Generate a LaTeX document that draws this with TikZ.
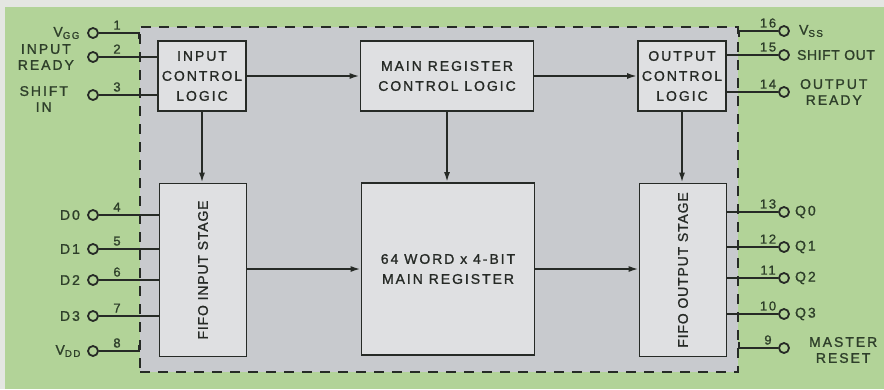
\documentclass[tikz,border=0pt]{standalone}
\usepackage{fontspec}
\setmainfont{Liberation Sans}[LetterSpace=14,FakeBold=1.2]
\usepackage{xcolor}
\usetikzlibrary{arrows.meta,positioning}
\definecolor{paper}{HTML}{E4E6E2}
\definecolor{board}{HTML}{B2D398}
\definecolor{chipgrey}{HTML}{C8CACE}
\definecolor{boxgrey}{HTML}{DFE0E2}
\definecolor{ink}{HTML}{262A26}
\definecolor{leaf}{HTML}{2E3F2A}
\tikzset{
  ctlbox/.style={draw=ink, line width=1.8pt, fill=boxgrey, align=center, inner sep=0pt, minimum width=88pt, minimum height=70pt, font=\fontsize{14}{20}\selectfont, text=ink},
  regbox/.style={draw=ink, line width=1.8pt, fill=boxgrey, align=center, inner sep=0pt, minimum width=173pt, minimum height=172pt, font=\fontsize{14}{20}\selectfont, text=ink},
  stagebox/.style={draw=ink, line width=1.8pt, fill=boxgrey, inner sep=0pt, minimum width=87pt, minimum height=173pt},
  stagetext/.style={rotate=90, font=\fontsize{14}{20}\selectfont\addfontfeature{LetterSpace=6}, text=ink, inner sep=0pt},
  chipframe/.style={draw=ink, line width=1.8pt, dash pattern=on 10pt off 8pt, fill=chipgrey, inner sep=0pt, minimum width=598pt, minimum height=345pt},
  pincirc/.style={circle, draw=ink, line width=1.8pt, fill=board, minimum size=10pt, inner sep=0pt},
  pinline/.style={draw=ink, line width=1.8pt},
  pinno/.style={above, inner sep=2.5pt, font=\fontsize{13}{15}\selectfont, text=leaf},
  plbl/.style={align=center, inner sep=1pt, font=\fontsize{14}{16}\selectfont, text=leaf},
  darrow/.style={-{Latex[length=10pt,width=6pt]}, draw=ink, line width=1.8pt}
}

\begin{document}
\begin{tikzpicture}[x=1pt,y=-1pt]
\useasboundingbox (0,0) rectangle (884,389);
\fill[paper] (0,0) rectangle (884,389);
\fill[board] (5,7) rectangle (884,389);

\node[chipframe] (chip) at (439,199.5) {};

\node[ctlbox] (inctl) at (202,76) {INPUT\\CONTROL\\LOGIC};
\node[ctlbox, minimum width=173pt] (mainctl) at (447,76) {MAIN REGISTER\\CONTROL LOGIC};
\node[ctlbox] (outctl) at (682,76) {OUTPUT\\CONTROL\\LOGIC};
\node[stagebox] (fifoin) at (203,270) {};
\node[stagetext] (fifointxt) at (fifoin.center) {FIFO INPUT STAGE};
\node[regbox] (mainreg) at (448,269) {64 WORD x 4-BIT\\MAIN REGISTER};
\node[stagebox] (fifoout) at (683,270) {};
\node[stagetext] (fifoouttxt) at (fifoout.center) {FIFO OUTPUT STAGE};

\draw[darrow] (inctl.east) -- (mainctl.west);
\draw[darrow] (mainctl.east) -- (outctl.west);
\draw[darrow] (inctl.south) -- (inctl.south |- fifoin.north);
\draw[darrow] (mainctl.south) -- (mainctl.south |- mainreg.north);
\draw[darrow] (outctl.south) -- (outctl.south |- fifoout.north);
\draw[darrow] (fifoin.east |- mainreg.west) -- (mainreg.west);
\draw[darrow] (mainreg.east) -- (fifoout.west |- mainreg.east);

% left pins
\node[pincirc] (p1) at (93,33) {};
\node[pincirc] (p2) at (93,57) {};
\node[pincirc] (p3) at (93,95) {};
\node[pincirc] (p4) at (93,215) {};
\node[pincirc] (p5) at (93,249) {};
\node[pincirc] (p6) at (93,280) {};
\node[pincirc] (p7) at (93,316) {};
\node[pincirc] (p8) at (93,351) {};

\node[plbl, left=6pt of p1] (l1) {V\textsubscript{GG}};
\node[plbl, left=12pt of p2] (l2) {INPUT\\READY};
\node[plbl, left=18pt of p3, yshift=-4pt] (l3) {SHIFT\\IN};
\node[plbl, left=6pt of p4] (l4) {D0};
\node[plbl, left=6pt of p5] (l5) {D1};
\node[plbl, left=6pt of p6] (l6) {D2};
\node[plbl, left=6pt of p7] (l7) {D3};
\node[plbl, left=5pt of p8] (l8) {V\textsubscript{DD}};

\draw[pinline] (p1) -- ++(24,0) node[pinno] {1} -- (p1 -| chip.west) -- ++(0,6);
\draw[pinline] (p2) -- ++(24,0) node[pinno] {2} -- (p2 -| inctl.west);
\draw[pinline] (p3) -- ++(24,0) node[pinno] {3} -- (p3 -| inctl.west);
\draw[pinline] (p4) -- ++(24,0) node[pinno] {4} -- (p4 -| fifoin.west);
\draw[pinline] (p5) -- ++(24,0) node[pinno] {5} -- (p5 -| fifoin.west);
\draw[pinline] (p6) -- ++(24,0) node[pinno] {6} -- (p6 -| fifoin.west);
\draw[pinline] (p7) -- ++(24,0) node[pinno] {7} -- (p7 -| fifoin.west);
\draw[pinline] (p8) -- ++(24,0) node[pinno] {8} -- (p8 -| chip.west) -- ++(0,-6);

% right pins
\node[pincirc] (p16) at (784,31) {};
\node[pincirc] (p15) at (784,55) {};
\node[pincirc] (p14) at (784,92) {};
\node[pincirc] (p13) at (784,212) {};
\node[pincirc] (p12) at (784,247) {};
\node[pincirc] (p11) at (784,278) {};
\node[pincirc] (p10) at (784,314) {};
\node[pincirc] (p9) at (784,348) {};

\node[plbl, right=8pt of p16] (l16) {V\textsubscript{SS}};
\node[plbl, right=6pt of p15, font=\fontsize{14}{16}\selectfont\addfontfeature{LetterSpace=4}] (l15) {SHIFT OUT};
\node[plbl, right=9pt of p14] (l14) {OUTPUT\\READY};
\node[plbl, right=4pt of p13] (l13) {Q0};
\node[plbl, right=4pt of p12] (l12) {Q1};
\node[plbl, right=4pt of p11] (l11) {Q2};
\node[plbl, right=4pt of p10] (l10) {Q3};
\node[plbl, right=18pt of p9, yshift=-2pt] (l9) {MASTER\\RESET};

\draw[pinline] (p16) -- ++(-16,0) node[pinno] {16} -- (p16 -| chip.east) -- ++(0,6);
\draw[pinline] (p15) -- ++(-16,0) node[pinno] {15} -- (p15 -| outctl.east);
\draw[pinline] (p14) -- ++(-16,0) node[pinno] {14} -- (p14 -| outctl.east);
\draw[pinline] (p13) -- ++(-16,0) node[pinno] {13} -- (p13 -| fifoout.east);
\draw[pinline] (p12) -- ++(-16,0) node[pinno] {12} -- (p12 -| fifoout.east);
\draw[pinline] (p11) -- ++(-16,0) node[pinno] {11} -- (p11 -| fifoout.east);
\draw[pinline] (p10) -- ++(-16,0) node[pinno] {10} -- (p10 -| fifoout.east);
\draw[pinline] (p9) -- ++(-16,0) node[pinno] {9} -- (p9 -| chip.east) -- ++(0,-6);
\end{tikzpicture}
\end{document}
